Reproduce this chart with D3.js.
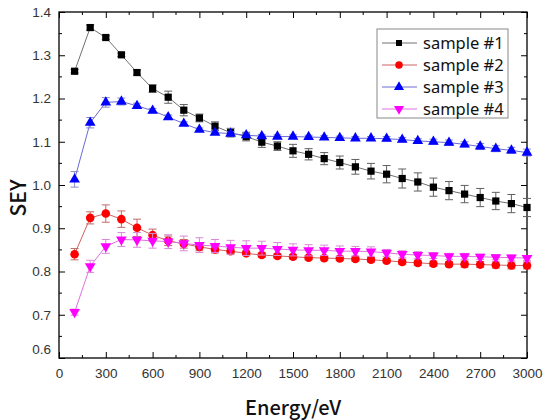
<!DOCTYPE html>
<html><head><meta charset="utf-8">
<script src="https://cdn.jsdelivr.net/npm/d3@7"></script>
<style>body{margin:0;background:#fff}svg{display:block}</style>
</head><body><svg id="c" width="546" height="420"></svg>
<script>
const energies = [100,200,300,400,500,600,700,800,900,1000,1100,1200,1300,1400,1500,1600,1700,1800,1900,2000,2100,2200,2300,2400,2500,2600,2700,2800,2900,3000];
const sample1 = [1.263,1.364,1.341,1.301,1.260,1.223,1.203,1.173,1.155,1.136,1.121,1.112,1.099,1.090,1.079,1.071,1.061,1.052,1.042,1.032,1.025,1.015,1.007,0.995,0.987,0.979,0.971,0.963,0.957,0.948];
const err1 = [0.004,0.006,0.004,0.004,0.006,0.009,0.014,0.013,0.009,0.010,0.010,0.010,0.012,0.010,0.015,0.013,0.014,0.015,0.017,0.018,0.020,0.022,0.021,0.021,0.021,0.020,0.021,0.020,0.021,0.021];
const sample2 = [0.840,0.924,0.934,0.921,0.901,0.884,0.871,0.864,0.857,0.851,0.847,0.842,0.838,0.836,0.834,0.832,0.831,0.830,0.829,0.827,0.825,0.822,0.820,0.818,0.817,0.817,0.816,0.815,0.814,0.814];
const err2 = [0.013,0.014,0.020,0.019,0.020,0.014,0.011,0.010,0.009,0.008,0.006,0.005,0.005,0.005,0.005,0.005,0.005,0.005,0.005,0.005,0.005,0.006,0.006,0.006,0.006,0.007,0.007,0.007,0.008,0.008];
const sample3 = [1.013,1.144,1.191,1.193,1.183,1.172,1.157,1.142,1.128,1.121,1.119,1.115,1.113,1.112,1.112,1.111,1.110,1.109,1.108,1.108,1.107,1.105,1.102,1.100,1.098,1.094,1.089,1.084,1.080,1.075];
const err3 = [0.018,0.012,0.011,0.008,0.006,0.005,0.005,0.004,0.004,0.004,0.004,0.004,0.004,0.004,0.004,0.004,0.004,0.004,0.004,0.004,0.005,0.005,0.005,0.006,0.006,0.006,0.007,0.007,0.007,0.008];
const sample4 = [0.706,0.812,0.858,0.874,0.873,0.871,0.869,0.865,0.861,0.859,0.856,0.854,0.854,0.852,0.850,0.849,0.849,0.847,0.847,0.846,0.843,0.840,0.838,0.837,0.835,0.835,0.834,0.833,0.832,0.831];
const err4 = [0.007,0.014,0.016,0.016,0.017,0.017,0.016,0.017,0.017,0.015,0.016,0.017,0.016,0.015,0.014,0.013,0.012,0.012,0.011,0.011,0.008,0.008,0.008,0.007,0.007,0.007,0.006,0.006,0.006,0.006];
const seriesNames = ["sample #1","sample #2","sample #3","sample #4"];
const xTicks = [0,300,600,900,1200,1500,1800,2100,2400,2700,3000];
const yTicks = [0.6,0.7,0.8,0.9,1.0,1.1,1.2,1.3,1.4];

const styles = [
  {fill:"#000000", line:"#707070", err:"#606060", shape:"square"},
  {fill:"#ff0000", line:"#d06060", err:"#c06a6a", shape:"circle"},
  {fill:"#0000ff", line:"#6a6ad8", err:"#8a8ac8", shape:"tri"},
  {fill:"#ff00ff", line:"#e070e0", err:"#d888d8", shape:"tridown"}
];
const data = [sample1,sample2,sample3,sample4].map((vals,i)=>({
  name: seriesNames[i], vals, errs:[err1,err2,err3,err4][i], st: styles[i]
}));

const L=59,R=527,T=12,B=358;
const x = d3.scaleLinear().domain([0,3000]).range([L,R]);
const y = d3.scaleLinear().domain([0.6,1.4]).range([B,T]);
const svg = d3.select("#c");

function symbolPath(shape, size){
  const s = {square:d3.symbolSquare, circle:d3.symbolCircle, tri:d3.symbolTriangle, tridown:d3.symbolTriangle}[shape];
  return d3.symbol().type(s).size(size)();
}
const sizes = {square:52, circle:58, tri:50, tridown:50};

const axisFont = "Liberation Sans";
function styleAxis(g){
  g.attr("font-family",axisFont).attr("font-size",13);
  g.select(".domain").remove();
  g.selectAll(".tick line").attr("stroke","#000").attr("stroke-width",1);
  g.selectAll(".tick text").attr("fill","#333").attr("font-family",axisFont).attr("font-size",13.5);
}
const minorX = d3.range(150,3000,300);
const minorY = d3.range(0.65,1.4,0.1);

const gb = svg.append("g").attr("transform",`translate(0,${B})`)
  .call(d3.axisBottom(x).tickValues(xTicks).tickFormat(d3.format("d")).tickSizeInner(-6).tickSizeOuter(0).tickPadding(10));
styleAxis(gb);
gb.selectAll(".minor").data(minorX).join("line").attr("x1",d=>x(d)).attr("x2",d=>x(d)).attr("y1",0).attr("y2",-3).attr("stroke","#000");
const gt = svg.append("g").attr("transform",`translate(0,${T})`)
  .call(d3.axisTop(x).tickValues(xTicks).tickFormat("").tickSizeInner(-6).tickSizeOuter(0));
styleAxis(gt);
gt.selectAll(".minor").data(minorX).join("line").attr("x1",d=>x(d)).attr("x2",d=>x(d)).attr("y1",0).attr("y2",3).attr("stroke","#000");
const gl = svg.append("g").attr("transform",`translate(${L},0)`)
  .call(d3.axisLeft(y).tickValues(yTicks).tickFormat(d3.format(".1f")).tickSizeInner(-6).tickSizeOuter(0).tickPadding(8));
styleAxis(gl);
gl.selectAll(".tick text").filter(d=>d===0.6).attr("dy","-0.3em");
gl.selectAll(".minor").data(minorY).join("line").attr("y1",d=>y(d)).attr("y2",d=>y(d)).attr("x1",0).attr("x2",3).attr("stroke","#000");
const gr = svg.append("g").attr("transform",`translate(${R},0)`)
  .call(d3.axisRight(y).tickValues(yTicks).tickFormat("").tickSizeInner(-6).tickSizeOuter(0));
styleAxis(gr);
gr.selectAll(".minor").data(minorY).join("line").attr("y1",d=>y(d)).attr("y2",d=>y(d)).attr("x1",0).attr("x2",-3).attr("stroke","#000");

svg.append("rect").attr("x",L).attr("y",T).attr("width",R-L).attr("height",B-T)
  .attr("fill","none").attr("stroke","#000").attr("stroke-width",1.3);

const line = d3.line().x(d=>x(d[0])).y(d=>y(d[1]));
data.forEach(s=>{
  const pts = energies.map((e,i)=>[e,s.vals[i],s.errs[i]]);
  const g = svg.append("g");
  g.append("path").attr("d",line(pts)).attr("fill","none").attr("stroke",s.st.line).attr("stroke-width",1);
  const eg = g.append("g").attr("stroke",s.st.err).attr("stroke-width",1).attr("fill","none");
  pts.forEach(p=>{
    const cx=x(p[0]), y1=y(p[1]+p[2]), y2=y(p[1]-p[2]);
    eg.append("line").attr("x1",cx).attr("x2",cx).attr("y1",y1).attr("y2",y2);
    eg.append("line").attr("x1",cx-4).attr("x2",cx+4).attr("y1",y1).attr("y2",y1);
    eg.append("line").attr("x1",cx-4).attr("x2",cx+4).attr("y1",y2).attr("y2",y2);
  });
  g.selectAll(".m").data(pts).join("path")
    .attr("d",symbolPath(s.st.shape,sizes[s.st.shape]))
    .attr("transform",d=>`translate(${x(d[0])},${y(d[1])})${s.st.shape==="tridown"?" rotate(180)":""}`)
    .attr("fill",s.st.fill);
});

const lg = svg.append("g");
lg.append("rect").attr("x",377).attr("y",29).attr("width",131).attr("height",89)
  .attr("fill","#fff").attr("stroke","#888").attr("stroke-width",1);
data.forEach((s,i)=>{
  const ly = 43 + i*22;
  lg.append("line").attr("x1",382).attr("x2",417).attr("y1",ly).attr("y2",ly).attr("stroke",s.st.line).attr("stroke-width",1);
  lg.append("path").attr("d",symbolPath(s.st.shape, s.st.shape==="square"?36:44))
    .attr("transform",`translate(399,${ly})${s.st.shape==="tridown"?" rotate(180)":""}`).attr("fill",s.st.fill);
  lg.append("text").attr("x",423).attr("y",ly).attr("dy","0.35em")
    .attr("font-family","Noto Sans").attr("font-size",16.5).attr("fill","#111")
    .text(s.name);
});

svg.append("text").attr("x",(L+R)/2).attr("y",415).attr("text-anchor","middle")
  .attr("font-family","Noto Sans CJK SC").attr("font-size",20).attr("font-weight",500).attr("fill","#111")
  .text("Energy/eV");
svg.append("text").attr("transform","translate(26,198) rotate(-90)").attr("text-anchor","middle")
  .attr("font-family","Noto Sans CJK SC").attr("font-size",21).attr("font-weight",500).attr("fill","#111")
  .text("SEY");
</script></body></html>
